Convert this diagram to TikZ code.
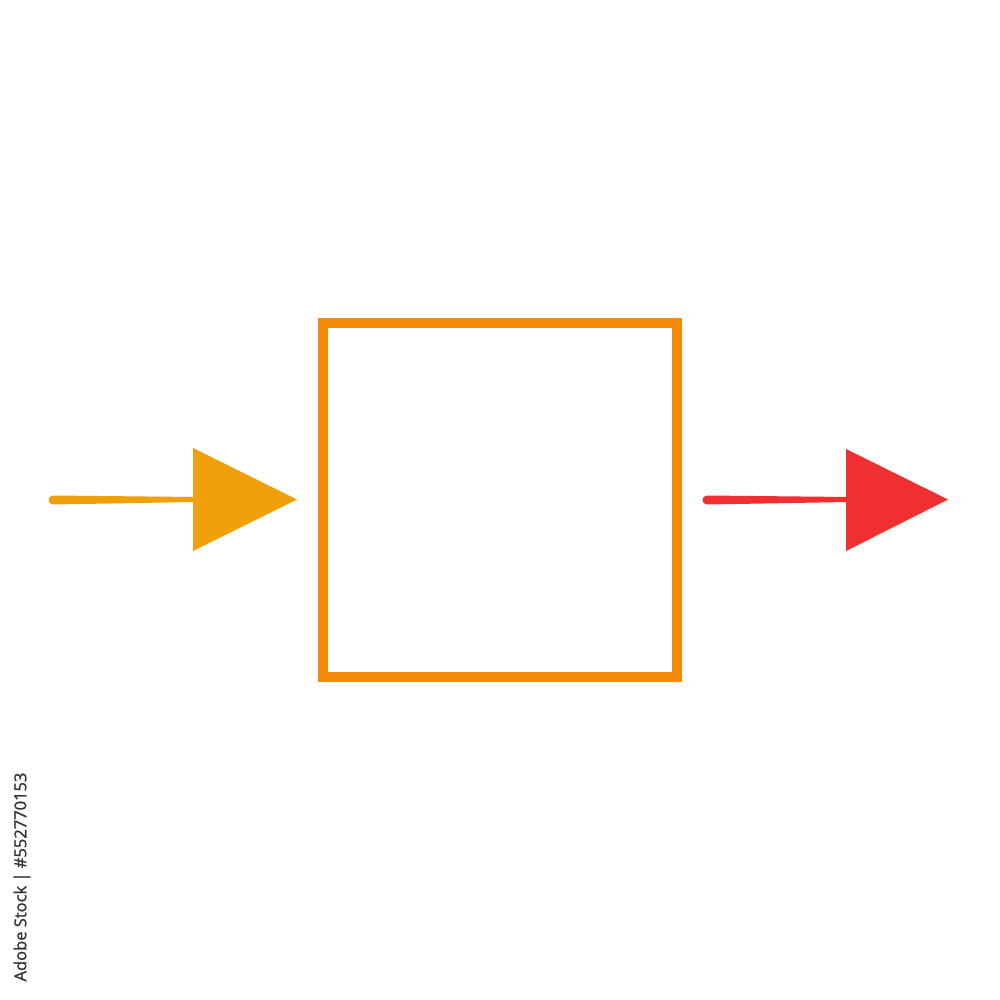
\documentclass[tikz,border=0pt]{standalone}
\usepackage{fontspec}
\setsansfont{Open Sans}
\newfontfamily\wmfont{Open Sans}[FakeBold=1.2]
\definecolor{boxorange}{HTML}{F5890A}
\definecolor{inorange}{HTML}{F0A00A}
\definecolor{outred}{HTML}{F03030}
\definecolor{wmgray}{HTML}{333333}
\begin{document}
\begin{tikzpicture}[x=1pt,y=-1pt,
  boxstyle/.style={draw=boxorange,line width=10pt,minimum width=354pt,minimum height=354pt,inner sep=0pt},
  shaftstyle/.style={fill=#1},
  headstyle/.style={fill=#1}]
\fill[white] (0,0) rectangle (1000,1000);
\useasboundingbox (0,0) rectangle (1000,1000);
\node[boxstyle] (box) at (500,500) {};
% input arrow
\coordinate (inStart) at (53,500);
\coordinate (inTip) at (297,499.5);
\fill[inorange] (53,495.5) -- (195,497) -- (195,502) -- (53,504.5) arc[start angle=90,end angle=270,radius=4.5] -- cycle;
\fill[inorange] (193,448) -- (inTip) -- (193,551) -- cycle;
% output arrow
\coordinate (outStart) at (707,500);
\coordinate (outTip) at (948,499.5);
\fill[outred] (707,495.5) -- (848,497) -- (848,502) -- (707,504.5) arc[start angle=90,end angle=270,radius=4.5] -- cycle;
\fill[outred] (846,449) -- (outTip) -- (846,551) -- cycle;
% watermark label
\node[rotate=90,anchor=center,text=wmgray,font=\wmfont\fontsize{16.5}{18}\selectfont,inner sep=0pt] (wm) at (22,877) {Adobe Stock | \#552770153};
\end{tikzpicture}
\end{document}
